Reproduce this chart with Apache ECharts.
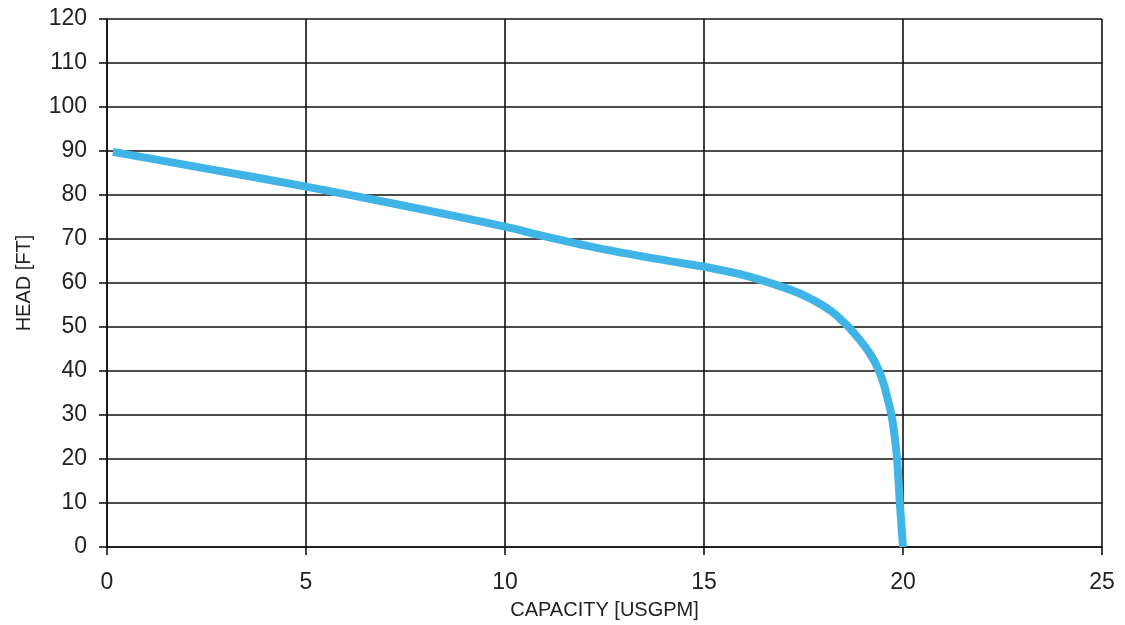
<!DOCTYPE html>
<html>
<head>
<meta charset="utf-8">
<script src="https://cdn.jsdelivr.net/npm/echarts@6/dist/echarts.min.js"></script>
<style>
html,body{margin:0;padding:0;background:#fff;}
#chart{width:1125px;height:625px;}
</style>
</head>
<body>
<div id="chart"></div>
<script>
// Pump curve: capacity (USGPM) vs head (FT)
const capacity = [0.15, 2.5, 5, 7.5, 10, 11, 12.3, 14, 15, 16, 17, 17.6, 18.2, 18.6, 18.9, 19.15, 19.35, 19.5, 19.62, 19.72, 19.8, 19.86, 19.92, 20.0];
const head     = [89.8, 86.0, 81.9, 77.5, 72.8, 70.6, 68.0, 65.2, 63.7, 61.8, 59.0, 56.8, 53.6, 50.3, 47.2, 44.2, 41.0, 37.5, 33.5, 29.5, 24.5, 19.0, 10.0, 0.0];
const xTitle = 'CAPACITY [USGPM]';
const yTitle = 'HEAD [FT]';

const chart = echarts.init(document.getElementById('chart'), null, {renderer: 'canvas'});
const gridLine = {show: true, lineStyle: {color: '#111', width: 1.6}};
const font = 'Liberation Sans, Arial, sans-serif';
chart.setOption({
  animation: false,
  backgroundColor: '#fff',
  grid: {left: 107, right: 23, top: 19, bottom: 77, containLabel: false},
  xAxis: {
    type: 'value', min: 0, max: 25, interval: 5,
    name: xTitle, nameLocation: 'middle', nameGap: 53,
    nameTextStyle: {fontFamily: font, fontSize: 20, color: '#222'},
    axisLine: {show: true, onZero: false, lineStyle: {color: '#111', width: 1.6}},
    axisTick: {show: true, length: 8, lineStyle: {color: '#111', width: 1.6}},
    axisLabel: {fontFamily: font, fontSize: 23, color: '#222', margin: 24},
    splitLine: gridLine
  },
  yAxis: {
    type: 'value', min: 0, max: 120, interval: 10,
    name: yTitle, nameLocation: 'middle', nameGap: 73,
    nameTextStyle: {fontFamily: font, fontSize: 20, color: '#222'},
    axisLine: {show: true, onZero: false, lineStyle: {color: '#111', width: 1.6}},
    axisTick: {show: true, length: 8, lineStyle: {color: '#111', width: 1.6}},
    axisLabel: {fontFamily: font, fontSize: 23, color: '#222', margin: 20},
    splitLine: gridLine
  },
  series: [{
    type: 'line',
    data: capacity.map((c, i) => [c, head[i]]),
    smooth: 0.3,
    showSymbol: false,
    lineStyle: {color: '#40b4e6', width: 8, cap: 'butt', join: 'round'},
    clip: false
  }]
});
</script>
</body>
</html>
